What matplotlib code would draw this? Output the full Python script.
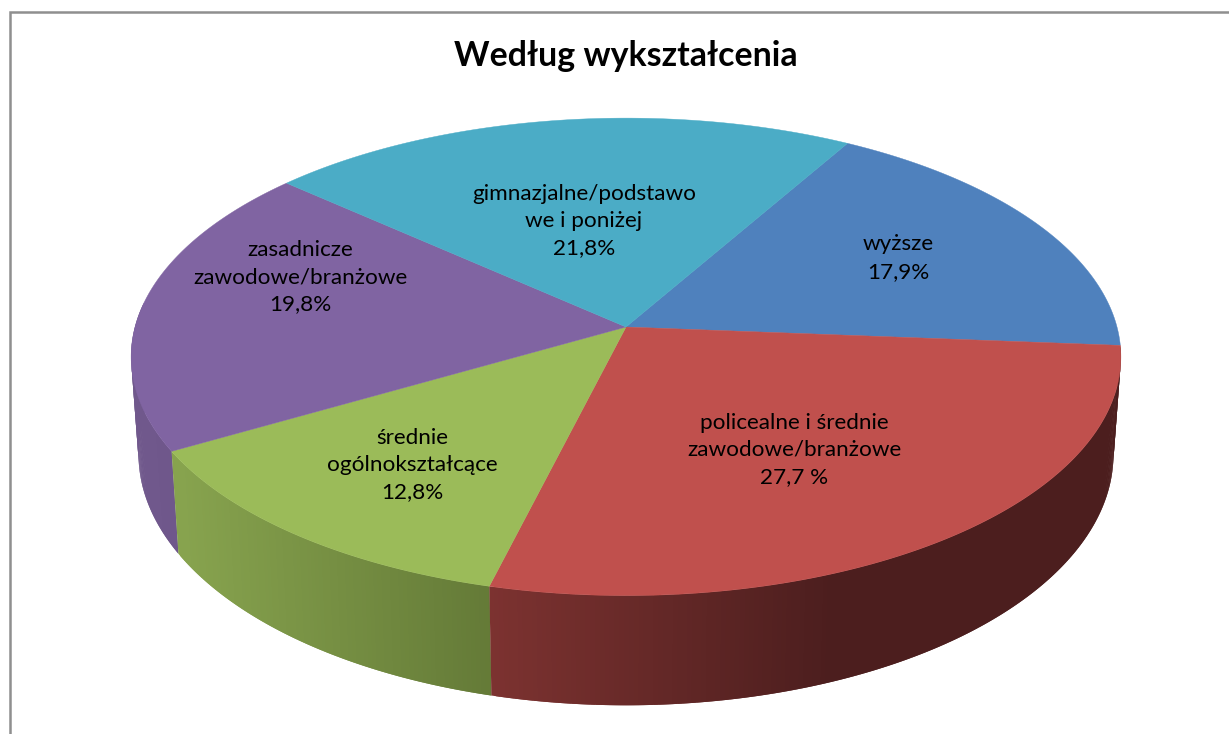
import numpy as np
import matplotlib
matplotlib.use('Agg')
import matplotlib.pyplot as plt

plt.rcParams['font.family'] = ['Lato', 'DejaVu Sans']

# dane
title = 'Według wykształcenia'
categories = ['wyższe', 'policealne i średnie\nzawodowe/branżowe', 'średnie\nogólnokształcące',
              'zasadnicze\nzawodowe/branżowe', 'gimnazjalne/podstawo\nwe i poniżej']
values = [17.9, 27.7, 12.8, 19.8, 21.8]
value_labels = ['17,9%', '27,7 %', '12,8%', '19,8%', '21,8%']
colors = ['#4f81bd', '#c0504d', '#9bbb59', '#8064a2', '#4bacc6']
label_pos = [(898, 258), (794, 450), (412, 465), (300, 277), (584, 221)]

# boki: kolor z lewej i prawej strony kawalka
side_colors = {1: ('#7c3230', '#4c1e1e'), 2: ('#87a34e', '#647a37'), 3: ('#70588c', '#6f578b')}
side_ranges = {1: (490, 830), 2: (180, 490), 3: (130, 180)}

start_angle = 60.0
cx, cy = 626, 327
rx, ry = 491, 235
persp = 0.125
depth = 96
shrink = 0.985


def project(theta, z=0.0):
    x = np.cos(theta)
    y = np.sin(theta)
    w = 1 + persp * y
    s = shrink if z else 1.0
    return cx + rx * x * s / w, cy - (ry * y - z) / w


fig = plt.figure(figsize=(12.29, 7.34), dpi=100)
ax = fig.add_axes([0, 0, 1, 1])
ax.set_xlim(0, 1229)
ax.set_ylim(734, 0)
ax.axis('off')

# ramka
ax.plot([9.5, 9.5, 1229], [734, 12, 12], color='#8f8f8f', lw=1.8, solid_joinstyle='miter')

edges = start_angle - np.cumsum([0] + values) * 3.6
ends = np.radians(edges)

# boki, tylko widoczna czesc
side_spans = {3: (np.radians(-186), ends[3]), 2: (ends[3], ends[2]), 1: (ends[2], ends[1])}
for i in [3, 2, 1]:
    c0 = np.array(matplotlib.colors.to_rgb(side_colors[i][0]))
    c1 = np.array(matplotlib.colors.to_rgb(side_colors[i][1]))
    x0, x1 = side_ranges[i]
    ts = np.arange(side_spans[i][0], side_spans[i][1], np.radians(0.5))
    ts = np.r_[ts, side_spans[i][1]]
    for a, b in zip(ts[:-1], ts[1:]):
        # kazdy pasek zachodzi na nastepny, zeby nie bylo szwow
        b2 = min(b + np.radians(0.5), side_spans[i][1])
        xa, ya = project(a)
        xb, yb = project(b2)
        xc, yc = project(b2, depth)
        xd, yd = project(a, depth)
        f = np.clip((xa - x0) / (x1 - x0), 0, 1)
        ax.fill([xa, xb, xc, xd], [ya, yb, yc, yd], color=c0 + (c1 - c0) * f, lw=0, zorder=2)

# gora kola
for i in range(len(values)):
    ts = np.linspace(ends[i], ends[i + 1], 200)
    xs, ys = project(ts)
    ax.fill(np.r_[cx, xs], np.r_[cy, ys], color=colors[i], lw=0.3, zorder=3)

ax.text(625.5, 56, title, ha='center', va='center', fontsize=24.4, fontweight='bold', color='black', zorder=5)

for cat, val, pos in zip(categories, value_labels, label_pos):
    ax.text(pos[0], pos[1], cat + '\n' + val, ha='center', va='center', fontsize=16.2,
            linespacing=1.46, color='black', zorder=5)

fig.savefig('out.png', dpi=100)
